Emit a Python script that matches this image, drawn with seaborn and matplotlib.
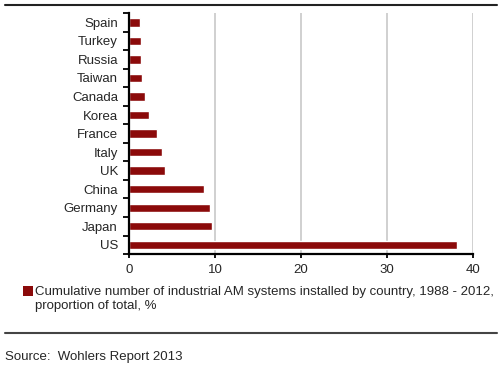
import matplotlib
matplotlib.use("Agg")
import matplotlib.pyplot as plt
from matplotlib.lines import Line2D
from matplotlib.patches import Rectangle
from matplotlib.ticker import FixedLocator
import seaborn as sns
import pandas as pd

# 국가별 누적 설치 비중 (%)
countries = ["Spain", "Turkey", "Russia", "Taiwan", "Canada", "Korea", "France",
             "Italy", "UK", "China", "Germany", "Japan", "US"]
shares = [1.3, 1.4, 1.4, 1.5, 1.9, 2.3, 3.2, 3.8, 4.2, 8.7, 9.4, 9.7, 38.1]
x_ticks = [0, 10, 20, 30, 40]
legend_label = ("Cumulative number of industrial AM systems installed by country, 1988 - 2012,\n"
                "proportion of total, %")
source_text = "Source:  Wohlers Report 2013"

df = pd.DataFrame({"country": countries, "share": shares})

sns.set_style("white")
plt.rcParams["font.family"] = ["Liberation Sans", "DejaVu Sans"]

bar_color = "#8b0a0a"

fig = plt.figure(figsize=(5, 3.65), dpi=100)
ax = fig.add_axes([0.258, 0.304, 0.688, 0.66])
sns.barplot(data=df, y="country", x="share", color=bar_color, width=0.45,
            saturation=1, ax=ax, orient="h")

ax.set_xlim(0, 40)
ax.set_xticks(x_ticks)
ax.set_xlabel("")
ax.set_ylabel("")
ax.set_ylim(len(countries) - 0.5, -0.5)

# 그리드, 축
ax.grid(axis="x", color="#c8c8c8", linewidth=1.2)
ax.set_axisbelow(True)
for s in ["top", "right"]:
    ax.spines[s].set_visible(False)
for s in ["left", "bottom"]:
    ax.spines[s].set_color("black")
    ax.spines[s].set_linewidth(1.6)

ax.tick_params(axis="y", which="major", length=0, labelsize=9.5, pad=8)
ax.yaxis.set_minor_locator(FixedLocator([i - 0.5 for i in range(len(countries) + 1)]))
ax.tick_params(axis="y", which="minor", length=4, width=1.3, color="black", left=True)
ax.tick_params(axis="x", length=3, width=1.3, color="black", labelsize=9.5, pad=4, bottom=True)

# 범례 (첫 줄에 맞춘 마커)
fig.add_artist(Rectangle((0.046, 0.189), 0.02, 0.0274, transform=fig.transFigure,
                         facecolor=bar_color, edgecolor="none"))
fig.text(0.07, 0.181, legend_label, fontsize=9.5, va="center", ha="left", linespacing=1.3)

# 위/아래 구분선, 출처
fig.add_artist(Line2D([0.01, 0.994], [0.986, 0.986], color="#222222", linewidth=1.5))
fig.add_artist(Line2D([0.01, 0.994], [0.088, 0.088], color="#444444", linewidth=1.5))
fig.text(0.01, 0.022, source_text, fontsize=9.5, va="center", ha="left")

plt.savefig("out.png", dpi=100)
